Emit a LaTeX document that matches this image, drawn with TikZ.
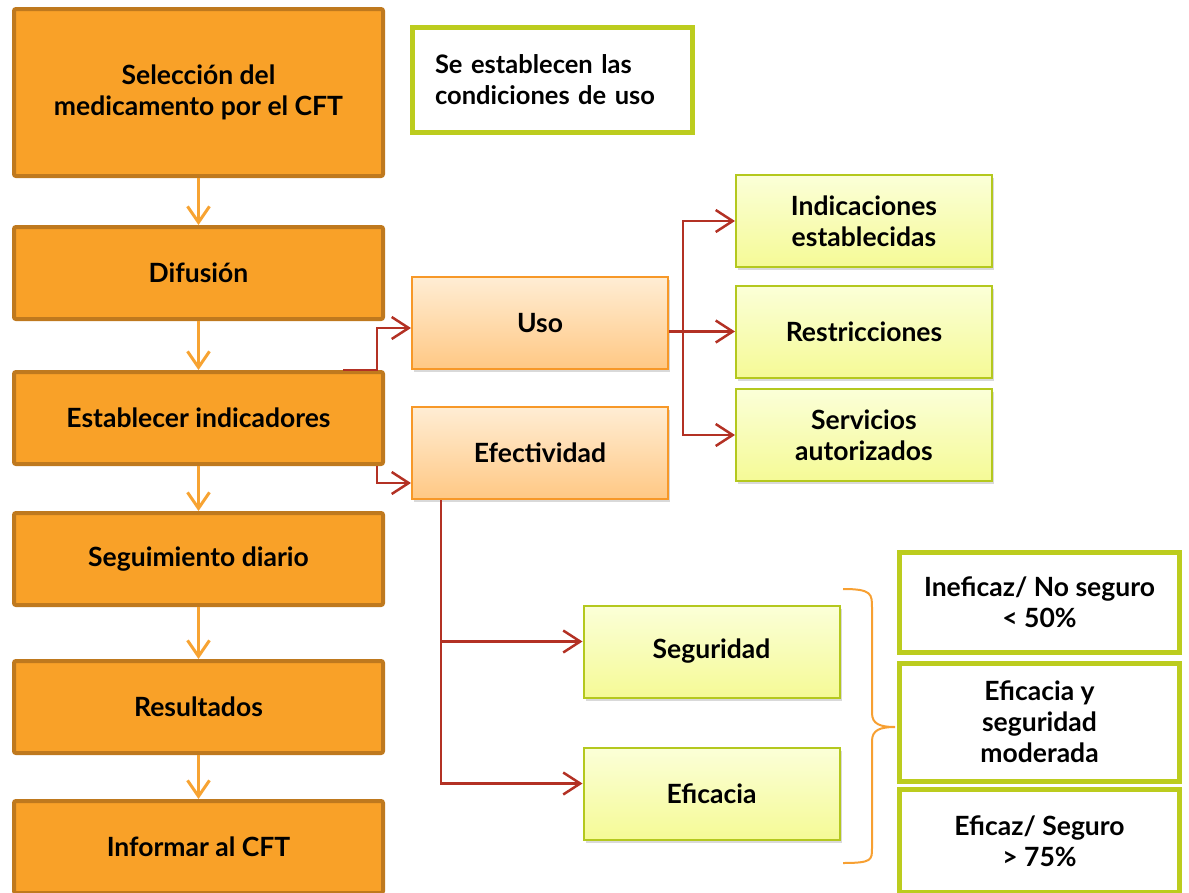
\documentclass[tikz,border=0pt]{standalone}
\usepackage{fontspec}
\setmainfont{Lato}
\usepackage{tikz}
\usetikzlibrary{positioning, arrows.meta, shadows, calc}
\definecolor{stepcolor}{RGB}{249,161,40}
\definecolor{stepborder}{RGB}{191,121,30}
\definecolor{arrowcolor}{RGB}{247,163,50}
\definecolor{linkcolor}{RGB}{179,49,36}
\definecolor{cattop}{RGB}{255,237,212}
\definecolor{catbottom}{RGB}{255,200,132}
\definecolor{catborder}{RGB}{247,152,40}
\definecolor{itemtop}{RGB}{251,255,216}
\definecolor{itembottom}{RGB}{245,250,150}
\definecolor{itemborder}{RGB}{180,200,30}
\definecolor{levelborder}{RGB}{188,204,30}
\definecolor{bracecolor}{RGB}{247,160,50}

\begin{document}
\begin{tikzpicture}[
    x=1pt, y=-1pt,
    font=\fontsize{26.5}{31}\selectfont\bfseries,
    arrow/.style={-{Straight Barb[length=16pt, width=22pt]}, line width=3pt, color=arrowcolor},
    linkarrow/.style={-{Straight Barb[length=17pt, width=22pt]}, line width=2.5pt, color=linkcolor},
    stepbox/.style={
        rectangle,
        rounded corners=2pt,
        minimum width=369pt,
        minimum height=92pt,
        align=center,
        draw=stepborder,
        line width=4pt,
        fill=stepcolor
    },
    catbox/.style={
        rectangle,
        minimum width=256pt,
        minimum height=92pt,
        align=center,
        draw=catborder,
        line width=2pt,
        top color=cattop,
        bottom color=catbottom,
        drop shadow={opacity=0.3, shadow xshift=2pt, shadow yshift=-3pt}
    },
    itembox/.style={
        rectangle,
        minimum width=256pt,
        minimum height=92pt,
        align=center,
        draw=itemborder,
        line width=2pt,
        top color=itemtop,
        bottom color=itembottom,
        drop shadow={opacity=0.3, shadow xshift=2pt, shadow yshift=-3pt}
    },
    levelbox/.style={
        rectangle,
        minimum width=280pt,
        align=center,
        draw=levelborder,
        line width=5pt,
        fill=white
    }
]
\useasboundingbox (0,0) rectangle (1189,892);

%% LEFT COLUMN %%
\node (sel) [stepbox, minimum height=167pt] at (198.5,92.5) {Selección del\\medicamento por el CFT};
\node (dif) [stepbox, below=47pt of sel] {Difusión};
\node (est) [stepbox, below=49pt of dif] {Establecer indicadores};
\node (seg_d) [stepbox, below=45pt of est] {Seguimiento diario};
\node (res_d) [stepbox, below=52pt of seg_d] {Resultados};
\node (inf) [stepbox, below=44pt of res_d] {Informar al CFT};

%% NOTE %%
\node (note) [
    rectangle,
    minimum width=280pt,
    minimum height=105pt,
    text width=235pt,
    align=left,
    draw=levelborder,
    line width=5pt,
    fill=white,
    font=\fontsize{25.5}{31}\selectfont\bfseries
] at (552.5,80) {Se establecen las\\condiciones de uso};

%% INDICATORS %%
\node (uso) [catbox] at (540,323) {Uso};
\node (efe) [catbox, below=36pt of uso] {Efectividad};

\node (ind) [itembox] at (864,221) {Indicaciones\\establecidas};
\node (res) [itembox] at (864,331.5) {Restricciones};
\node (ser) [itembox] at (864,435) {Servicios\\autorizados};

\node (segu) [itembox] at (711.5,651.5) {Seguridad};
\node (efi) [itembox] at (711.5,793.5) {Eficacia};

%% LEVELS %%
\node (lev1) [levelbox, minimum height=100pt] at (1039.5,602.5) {Ineficaz/ No seguro\\< 50\%};
\node (lev2) [levelbox, minimum height=118pt] at (1039.5,722) {Eficacia y\\seguridad\\moderada};
\node (lev3) [levelbox, minimum height=103pt] at (1039.5,841) {Eficaz/ Seguro\\> 75\%};

%% ARROWS %%
\draw [arrow] (sel) -- (dif);
\draw [arrow] (dif) -- (est);
\draw [arrow] (est) -- (seg_d);
\draw [arrow] (seg_d) -- (res_d);
\draw [arrow] (res_d) -- (inf);

\draw [linkarrow] ([xshift=-42pt]est.north east) -- ([xshift=-8pt]est.north east) |- ([yshift=-5pt]uso.west);
\draw [linkarrow] ([xshift=-8pt]est.south east) |- ([yshift=-30pt]efe.west);

\coordinate (ub) at ([xshift=14pt]uso.east |- res.west);
\draw [linkarrow] (uso.east |- res.west) -- (res.west);
\draw [linkarrow] (ub) |- (ind.west);
\draw [linkarrow] (ub) |- (ser.west);

\draw [linkarrow] ([xshift=30pt]efe.south west) |- ([yshift=10pt]segu.west);
\draw [linkarrow] ([xshift=30pt]efe.south west) |- ([yshift=10pt]efi.west);

%% BRACE %%
\coordinate (brtop) at (843,589);
\coordinate (brtip) at (895,727);
\coordinate (brbot) at (843,863);
\draw [bracecolor, line width=2pt]
    (brtop) .. controls (872,589) and (872,594) .. (872,608)
    -- (872,713) .. controls (872,724) and (880,727) .. (brtip)
    .. controls (880,727) and (872,730) .. (872,741)
    -- (872,848) .. controls (872,860) and (872,863) .. (brbot);

\end{tikzpicture}
\end{document}
